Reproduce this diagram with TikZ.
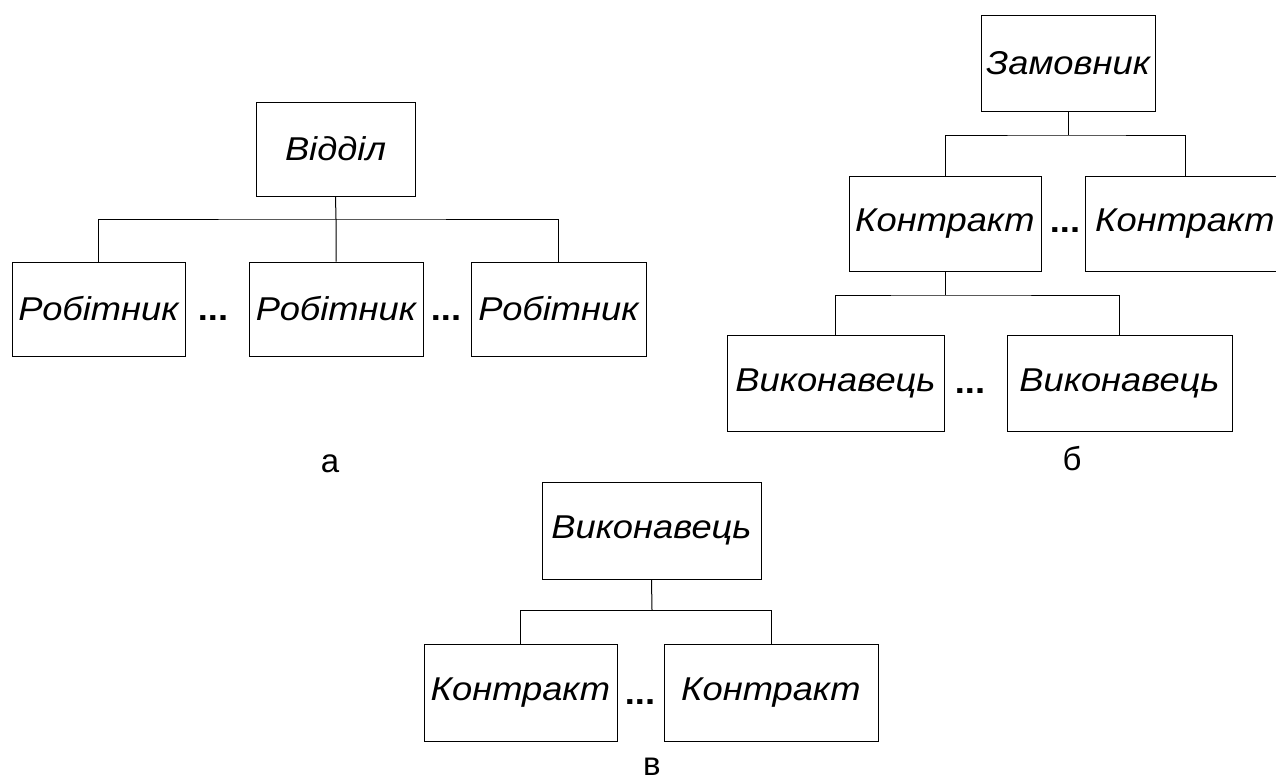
\documentclass[tikz,border=0pt]{standalone}
\usepackage{fontspec}
\setmainfont{Liberation Sans}
\newfontfamily\boxfont[FakeStretch=1.1]{Liberation Sans}
\begin{document}
\begin{tikzpicture}[x=1pt,y=-1pt,
  box/.style={draw,line width=1pt,inner sep=0pt,font=\boxfont\fontsize{33}{40}\selectfont\itshape},
  dots/.style={anchor=base,inner sep=0pt,font=\boxfont\fontsize{33}{40}\selectfont\bfseries},
  sublabel/.style={anchor=base,inner sep=0pt,font=\fontsize{33}{38}\selectfont},
  conn/.style={line width=1pt}]
\useasboundingbox (0,0) rectangle (1276,780);
% ---------- a ----------
\node[box,minimum width=159pt,minimum height=94pt] (vid) at (335.5,149) {Відділ};
\node[box,minimum width=173pt,minimum height=94pt] (r1) at (98.5,309) {Робітник};
\node[box,minimum width=174pt,minimum height=94pt] (r2) at (336,309) {Робітник};
\node[box,minimum width=175pt,minimum height=94pt] (r3) at (558.5,309) {Робітник};
\node[dots] (da1) at (213,320) {...};
\node[dots] (da2) at (446,320) {...};
\coordinate (ba) at (336,219);
\draw[conn] (vid.south) -- (ba) -- (r2.north);
\draw[conn] (r1.north) |- (ba) -| (r3.north);
\node[sublabel] (la) at (330,472) {а};
% ---------- b ----------
\node[box,minimum width=174pt,minimum height=96pt] (zam) at (1068,63) {Замовник};
\node[box,minimum width=192pt,minimum height=95pt] (k1) at (945,223.5) {Контракт};
\node[box,minimum width=200pt,minimum height=95pt] (k2) at (1185,223.5) {Контракт};
\node[dots] (db1) at (1065,232) {...};
\coordinate (bb) at (1068,135);
\draw[conn] (zam.south) -- (bb);
\draw[conn] (k1.north) |- (bb) -| (k2.north);
\node[box,minimum width=217pt,minimum height=96pt] (v1) at (835.5,383) {Виконавець};
\node[box,minimum width=225pt,minimum height=96pt] (v2) at (1119.5,383) {Виконавець};
\node[dots] (db2) at (970,393) {...};
\coordinate (bc) at (945,295);
\draw[conn] (k1.south) -- (bc);
\draw[conn] (v1.north) |- (bc) -| (v2.north);
\node[sublabel] (lb) at (1072,470) {б};
% ---------- c ----------
\node[box,minimum width=219pt,minimum height=97pt] (vt) at (651.5,530.5) {Виконавець};
\node[box,minimum width=193pt,minimum height=97pt] (c1) at (520.5,692.5) {Контракт};
\node[box,minimum width=214pt,minimum height=97pt] (c2) at (771,692.5) {Контракт};
\node[dots] (dc1) at (640,704) {...};
\coordinate (bd) at (652,610);
\draw[conn] (vt.south) -- (bd);
\draw[conn] (c1.north) |- (bd) -| (c2.north);
\node[sublabel] (lc) at (652,775) {в};
\end{tikzpicture}
\end{document}
